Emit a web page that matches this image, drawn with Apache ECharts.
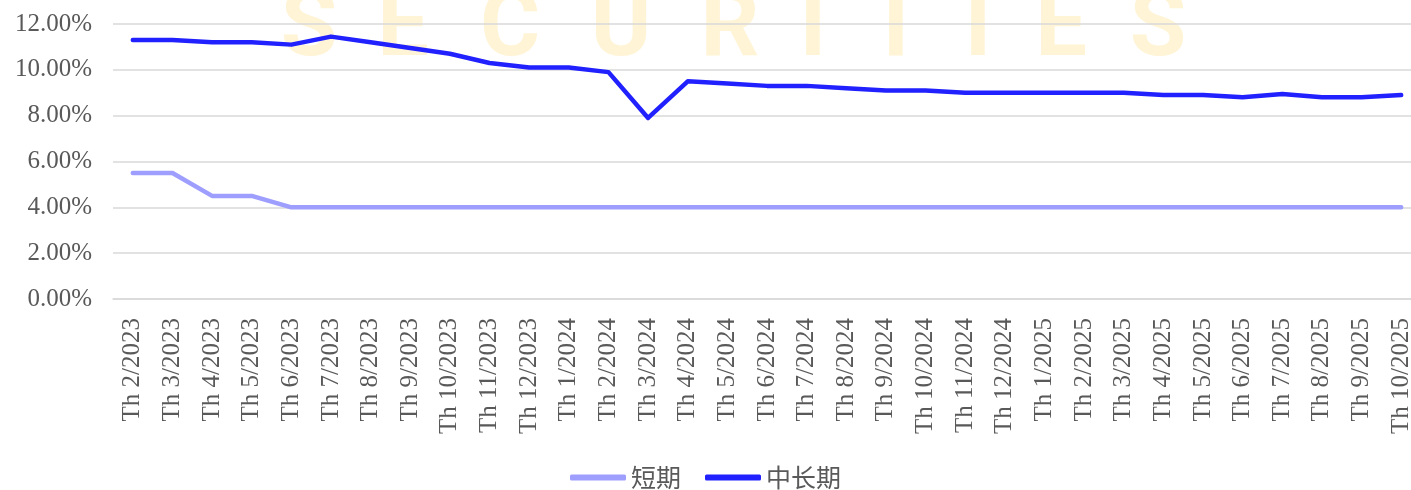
<!DOCTYPE html>
<html>
<head>
<meta charset="utf-8">
<script src="https://cdn.jsdelivr.net/npm/echarts@6/dist/echarts.min.js"></script>
<style>
html,body{margin:0;padding:0;background:#fff;}
#chart{width:1411px;height:490px;}
</style>
</head>
<body>
<div id="chart"></div>
<script>
var categories = ['Th 2/2023','Th 3/2023','Th 4/2023','Th 5/2023','Th 6/2023','Th 7/2023','Th 8/2023','Th 9/2023','Th 10/2023','Th 11/2023','Th 12/2023',
  'Th 1/2024','Th 2/2024','Th 3/2024','Th 4/2024','Th 5/2024','Th 6/2024','Th 7/2024','Th 8/2024','Th 9/2024','Th 10/2024','Th 11/2024','Th 12/2024',
  'Th 1/2025','Th 2/2025','Th 3/2025','Th 4/2025','Th 5/2025','Th 6/2025','Th 7/2025','Th 8/2025','Th 9/2025','Th 10/2025'];
var shortTerm = [5.5,5.5,4.5,4.5,4.0,4.0,4.0,4.0,4.0,4.0,4.0,
  4.0,4.0,4.0,4.0,4.0,4.0,4.0,4.0,4.0,4.0,4.0,4.0,
  4.0,4.0,4.0,4.0,4.0,4.0,4.0,4.0,4.0,4.0];
var longTerm = [11.3,11.3,11.2,11.2,11.1,11.45,11.2,10.95,10.7,10.3,10.1,
  10.1,9.9,7.9,9.5,9.4,9.3,9.3,9.2,9.1,9.1,9.0,9.0,
  9.0,9.0,9.0,8.9,8.9,8.8,8.95,8.8,8.8,8.9];
var seriesNames = ['短期','中长期'];
var watermarkLetters = ['S','E','C','U','R','I','T','I','E','S'];
var watermarkX = [309,403,510,621,730,813,896,978,1061,1158];

var chart = echarts.init(document.getElementById('chart'));
var serif = '"Liberation Serif","Times New Roman",serif';
var graphics = watermarkLetters.map(function(ch, i){
  return {
    type:'text', x: watermarkX[i], y: 32, z: -10, silent: true,
    style:{ text: ch, fill:'#fff4d6', font:'bold 92px Roboto, "Open Sans", sans-serif',
      textAlign:'center', textVerticalAlign:'middle' }
  };
});
chart.setOption({
  animation:false,
  backgroundColor:'#fff',
  graphic: graphics,
  grid:{ left:113, right:-10, top:24, bottom:191, containLabel:false, outerBoundsMode:'none' },
  legend:{
    bottom:-5, left:'center', itemGap:24, itemWidth:56, itemHeight:6,
    icon:'roundRect',
    textStyle:{ fontFamily:'"Noto Sans CJK SC", serif', fontSize:25, color:'#595959' },
    data: seriesNames
  },
  xAxis:{
    type:'category', data:categories, boundaryGap:true,
    axisLine:{ show:true, lineStyle:{ color:'#d9d9d9', width:1.5 } },
    axisTick:{ show:false },
    axisLabel:{ rotate:90, interval:0, margin:19, fontFamily:serif, fontSize:25, color:'#595959' }
  },
  yAxis:{
    type:'value', min:0, max:12, interval:2,
    axisLine:{ show:false }, axisTick:{ show:false },
    splitLine:{ lineStyle:{ color:'#d9d9d9', width:1.5 } },
    axisLabel:{ margin:21, fontFamily:serif, fontSize:25, color:'#595959',
      formatter:function(v){ return v.toFixed(2) + '%'; } }
  },
  series:[
    { name:seriesNames[0], type:'line', data:shortTerm, symbol:'none', showSymbol:false,
      itemStyle:{ color:'#9e9eff' }, lineStyle:{ color:'#9e9eff', width:4.5, cap:'round', join:'round' } },
    { name:seriesNames[1], type:'line', data:longTerm, symbol:'none', showSymbol:false,
      itemStyle:{ color:'#2121ff' }, lineStyle:{ color:'#2121ff', width:4.5, cap:'round', join:'round' } }
  ]
});
</script>
</body>
</html>
